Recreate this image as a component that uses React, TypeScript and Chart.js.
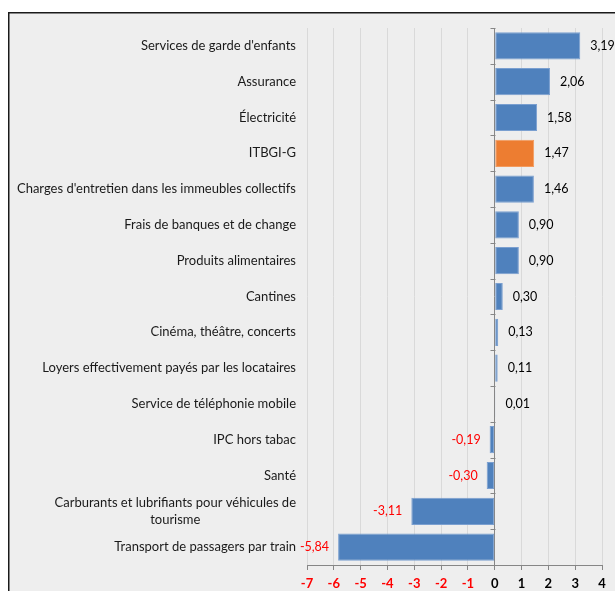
import React, { useEffect, useRef } from "react";
import { Chart, registerables } from "chart.js";

Chart.register(...registerables);

const categories: string[][] = [
  ["Services de garde d'enfants"],
  ["Assurance"],
  ["Électricité"],
  ["ITBGI-G"],
  ["Charges d'entretien dans les immeubles collectifs"],
  ["Frais de banques et de change"],
  ["Produits alimentaires"],
  ["Cantines"],
  ["Cinéma, théâtre, concerts"],
  ["Loyers effectivement payés par les locataires"],
  ["Service de téléphonie mobile"],
  ["IPC hors tabac"],
  ["Santé"],
  ["Carburants et lubrifiants pour véhicules de", "tourisme"],
  ["Transport de passagers par train"],
];

const values: number[] = [3.19, 2.06, 1.58, 1.47, 1.46, 0.9, 0.9, 0.3, 0.13, 0.11, 0.01, -0.19, -0.3, -3.11, -5.84];

const highlight: string = "ITBGI-G";

const xMin = -7;
const xMax = 4;

const BLUE = "#4F81BD";
const ORANGE = "#ED7D31";
const RED = "#FF0000";
const FONT = "Lato";

const fmt = (v: number) => v.toFixed(2).replace(".", ",");

const decorPlugin = {
  id: "decor",
  beforeDraw(chart: any) {
    const { ctx, width, height } = chart;
    ctx.save();
    ctx.fillStyle = "#FFFFFF";
    ctx.fillRect(0, 0, width, height);
    ctx.fillStyle = "#EEEEEE";
    ctx.fillRect(0, 4, width, height);
    ctx.strokeStyle = "#1a1a1a";
    ctx.lineWidth = 1.5;
    ctx.beginPath();
    ctx.moveTo(width + 5, 4.75);
    ctx.lineTo(0.75, 4.75);
    ctx.lineTo(0.75, height + 5);
    ctx.stroke();
    ctx.restore();
  },
  afterDatasetsDraw(chart: any) {
    const { ctx, chartArea, scales } = chart;
    const x0 = Math.round(scales.x.getPixelForValue(0)) + 0.5;
    const n = categories.length;
    const h = (chartArea.bottom - chartArea.top) / n;
    ctx.save();
    ctx.strokeStyle = "#868686";
    ctx.lineWidth = 1;
    ctx.beginPath();
    for (let i = 0; i <= n; i++) {
      const y = Math.round(chartArea.top + i * h) + 0.5;
      ctx.moveTo(x0 - 5, y);
      ctx.lineTo(x0, y);
    }
    ctx.stroke();

    ctx.font = `13px ${FONT}`;
    ctx.fillStyle = "#1a1a1a";
    ctx.textBaseline = "middle";
    const right = chartArea.left - 11;
    categories.forEach((lines, i) => {
      const yc = scales.y.getPixelForValue(i);
      if (lines.length === 1) {
        ctx.textAlign = "right";
        ctx.fillText(lines[0], right, yc);
      } else {
        const w0 = ctx.measureText(lines[0]).width;
        const cx = right - w0 / 2;
        const lh = 17;
        const startY = yc - ((lines.length - 1) * lh) / 2;
        ctx.textAlign = "center";
        lines.forEach((ln, k) => ctx.fillText(ln, cx, startY + k * lh));
      }
    });

    const meta = chart.getDatasetMeta(0);
    ctx.font = `12.5px ${FONT}`;
    meta.data.forEach((bar: any, i: number) => {
      const v = values[i];
      if (v >= 0) {
        ctx.textAlign = "left";
        ctx.fillStyle = "#000000";
        ctx.fillText(fmt(v), Math.max(bar.x, x0) + 10, bar.y);
      } else {
        ctx.textAlign = "right";
        ctx.fillStyle = RED;
        ctx.fillText(fmt(v), bar.x - 9, bar.y);
      }
    });
    ctx.restore();
  },
};

export default function App() {
  const ref = useRef<HTMLCanvasElement | null>(null);
  useEffect(() => {
    if (!ref.current) return;
    const chart = new Chart(ref.current, {
      type: "bar",
      data: {
        labels: categories.map((c) => c.join(" ")),
        datasets: [
          {
            data: values,
            backgroundColor: categories.map((c) => (c[0] === highlight ? ORANGE : BLUE)),
            borderColor: categories.map((c) => (c[0] === highlight ? "#F29A5E" : "#7A9FD0")),
            borderWidth: 1,
            borderSkipped: false,
            barPercentage: 0.76,
            categoryPercentage: 1,
          },
        ],
      },
      options: {
        indexAxis: "y",
        responsive: false,
        animation: false,
        layout: { padding: { top: 20, right: 13, left: 0, bottom: 0 } },
        plugins: { legend: { display: false }, tooltip: { enabled: false } },
        scales: {
          x: {
            type: "linear",
            min: xMin,
            max: xMax,
            afterFit: (s: any) => {
              s.height = 26;
            },
            ticks: {
              stepSize: 1,
              padding: 6,
              font: { family: FONT, size: 13, weight: "bold" },
              color: (c: any) => (c.tick && c.tick.value < 0 ? RED : "#000000"),
              callback: (v: any) => String(v),
            },
            grid: {
              color: (c: any) => (c.tick && c.tick.value === 0 ? "#868686" : "#D9D9D9"),
              tickColor: "#868686",
              tickLength: 5,
            },
            border: { color: "#868686", width: 1 },
          },
          y: {
            type: "category",
            afterFit: (s: any) => {
              s.width = 299;
            },
            ticks: { display: false },
            grid: { display: false, drawTicks: false },
            border: { display: false },
          },
        },
      },
      plugins: [decorPlugin],
    });
    return () => chart.destroy();
  }, []);
  return (
    <div style={{ position: "fixed", left: 8, top: 8, width: 607, height: 583, overflow: "hidden" }}>
      <canvas ref={ref} width={607} height={583} style={{ display: "block" }} />
    </div>
  );
}
